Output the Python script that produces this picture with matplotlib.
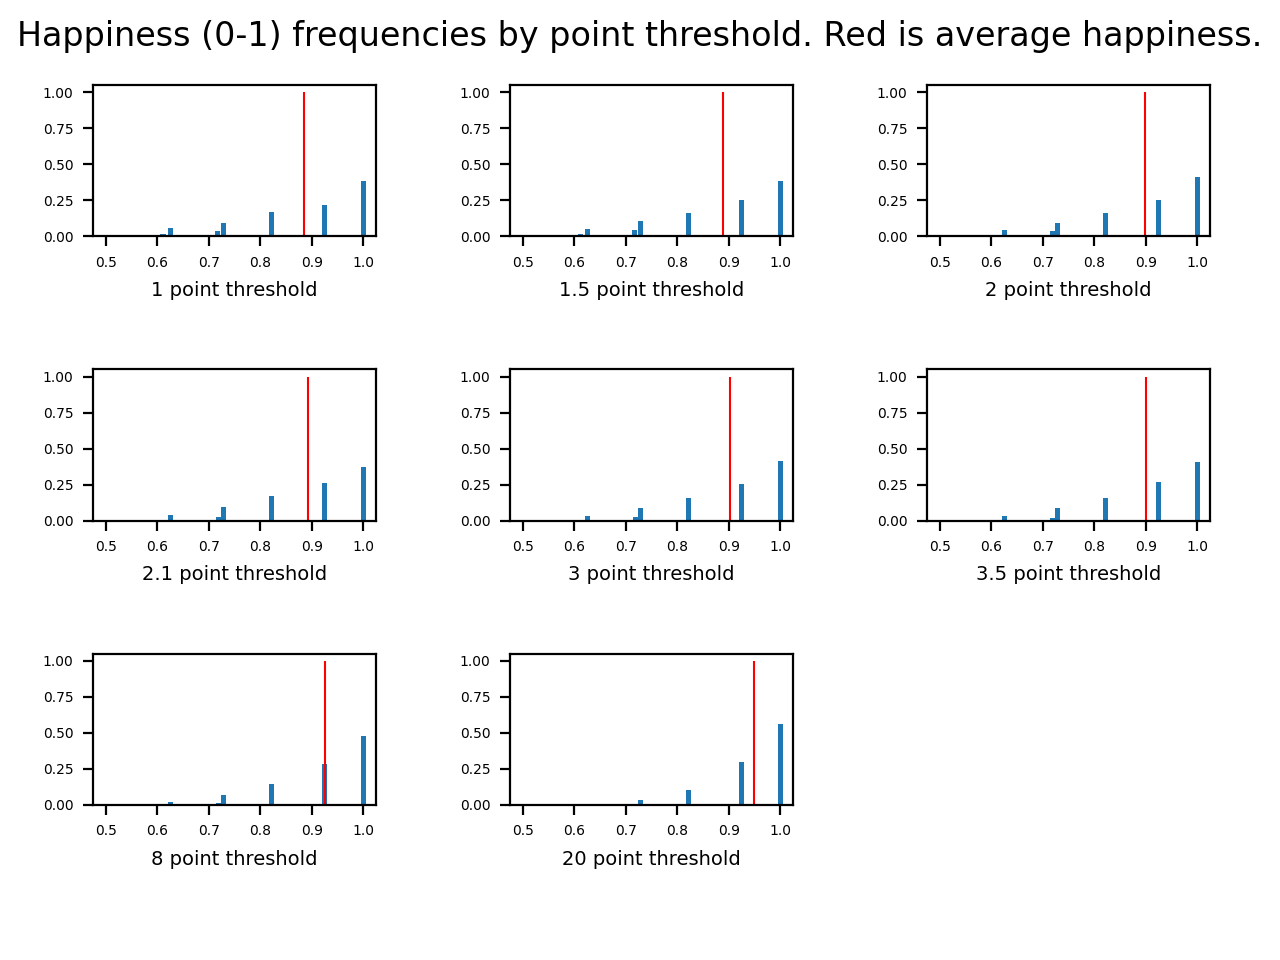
import matplotlib
matplotlib.use("Agg")
import matplotlib.pyplot as plt

thresholds = ["1", "1.5", "2", "2.1", "3", "3.5", "8", "20"]

# happiness values (bar centres) per threshold
positions = [
    [0.611, 0.625, 0.717, 0.729, 0.821, 0.925, 1.0],
    [0.611, 0.625, 0.717, 0.729, 0.821, 0.925, 1.0],
    [0.625, 0.719, 0.729, 0.821, 0.925, 1.0],
    [0.625, 0.719, 0.729, 0.821, 0.925, 1.0],
    [0.625, 0.719, 0.729, 0.821, 0.925, 1.0],
    [0.625, 0.719, 0.729, 0.821, 0.925, 1.0],
    [0.625, 0.719, 0.729, 0.821, 0.925, 1.0],
    [0.729, 0.821, 0.925, 1.0],
]
frequencies = [
    [0.016, 0.058, 0.035, 0.091, 0.167, 0.216, 0.386],
    [0.012, 0.053, 0.040, 0.109, 0.158, 0.249, 0.381],
    [0.040, 0.033, 0.095, 0.158, 0.249, 0.409],
    [0.040, 0.026, 0.096, 0.173, 0.264, 0.369],
    [0.033, 0.026, 0.089, 0.159, 0.257, 0.411],
    [0.033, 0.019, 0.089, 0.159, 0.271, 0.404],
    [0.019, 0.012, 0.067, 0.144, 0.283, 0.478],
    [0.032, 0.102, 0.297, 0.561],
]
averages = [0.885, 0.889, 0.898, 0.893, 0.902, 0.900, 0.9255, 0.948]

fig, axes = plt.subplots(3, 3, figsize=(6.4, 4.8), dpi=200)
fig.subplots_adjust(left=0.0727, right=0.9455, top=0.9115, bottom=0.1615,
                    wspace=0.473, hspace=0.88)
fig.suptitle("Happiness (0-1) frequencies by point threshold. Red is average happiness.",
             fontsize=12, y=0.979)

flat = axes.ravel()
for i, ax in enumerate(flat):
    if i >= len(thresholds):
        ax.set_visible(False)
        continue
    ax.bar(positions[i], frequencies[i], width=0.01, color="#1f77b4")
    ax.vlines(averages[i], 0, 1, color="red", linewidth=0.75)
    ax.set_xlim(0.475, 1.025)
    ax.set_ylim(0, 1.05)
    ax.set_xticks([0.5, 0.6, 0.7, 0.8, 0.9, 1.0])
    ax.set_yticks([0, 0.25, 0.5, 0.75, 1.0])
    ax.set_yticklabels(["0.00", "0.25", "0.50", "0.75", "1.00"])
    ax.tick_params(labelsize=5)
    ax.set_xlabel(f"{thresholds[i]} point threshold", fontsize=7)

fig.savefig("out.png", dpi=200)
